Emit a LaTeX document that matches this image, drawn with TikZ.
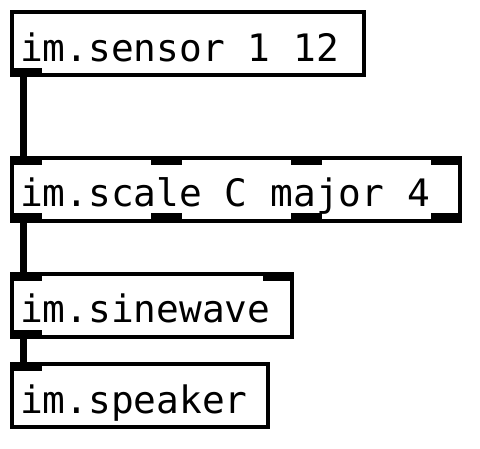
\documentclass[tikz,border=0pt]{standalone}
\usepackage{fontspec}
\newfontfamily\pdfont{DejaVu Sans Mono}
\begin{document}
\begin{tikzpicture}[x=1pt,y=-1pt,
  pdbox/.style={draw=black,line width=4pt,inner sep=0pt,outer sep=0pt,anchor=north west,minimum height=63pt},
  iolet/.style={fill=black,inner sep=0pt,outer sep=0pt,anchor=north west,minimum width=32pt,minimum height=9pt},
  pdtext/.style={anchor=base west,inner sep=0pt,font=\pdfont\fontsize{37.8}{40}\selectfont},
  wire/.style={line width=7pt}]
\useasboundingbox (0,0) rectangle (480,448);
% box 1
\node[pdbox,minimum width=352pt] (b1) at (12,12) {};
\node[iolet] (o1) at (10,68) {};
\node[pdtext] (t1) at (20,61) {im.sensor 1 12};
% box 2
\node[pdbox,minimum width=448pt] (b2) at (12,158) {};
\node[iolet] (i2a) at (10,156) {};
\node[iolet,minimum width=31pt] (i2b) at (151,156) {};
\node[iolet,minimum width=31pt] (i2c) at (291,156) {};
\node[iolet,minimum width=31pt] (i2d) at (431,156) {};
\node[iolet] (o2a) at (10,213) {};
\node[iolet,minimum width=31pt] (o2b) at (151,213) {};
\node[iolet,minimum width=31pt] (o2c) at (291,213) {};
\node[iolet,minimum width=31pt] (o2d) at (431,213) {};
\node[pdtext] (t2) at (20,206) {im.scale C major 4};
% box 3
\node[pdbox,minimum width=280pt] (b3) at (12,274) {};
\node[iolet] (i3a) at (10,272) {};
\node[iolet,minimum width=31pt] (i3b) at (263,272) {};
\node[iolet] (o3) at (10,330) {};
\node[pdtext] (t3) at (20,322) {im.sinewave};
% box 4
\node[pdbox,minimum width=256pt] (b4) at (12,364) {};
\node[iolet] (i4) at (10,362) {};
\node[pdtext] (t4) at (20,413) {im.speaker};
% wires
\draw[wire] ([xshift=-2.5pt]o1.south) -- ([xshift=-2.5pt]i2a.north);
\draw[wire] ([xshift=-2.5pt]o2a.south) -- ([xshift=-2.5pt]i3a.north);
\draw[wire] ([xshift=-2.5pt]o3.south) -- ([xshift=-2.5pt]i4.north);
\end{tikzpicture}
\end{document}
